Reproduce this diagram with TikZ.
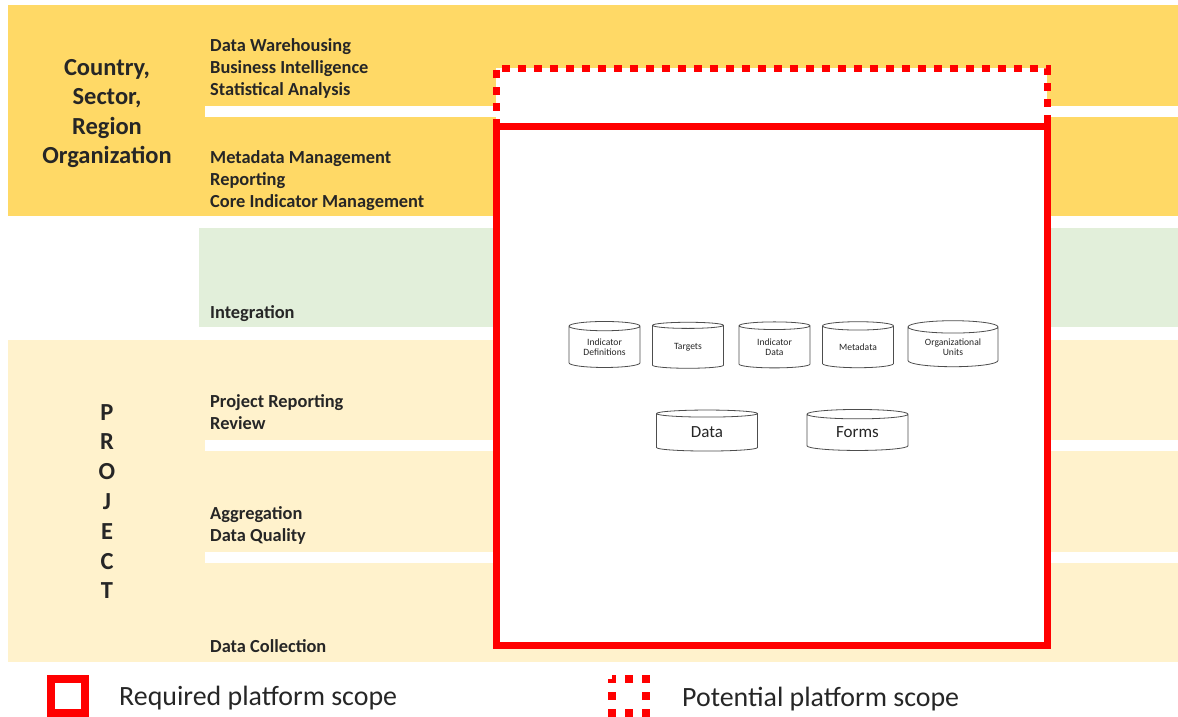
\documentclass[tikz,border=0pt]{standalone}
\usepackage{fontspec}
\setmainfont{Carlito}
\usetikzlibrary{shapes.geometric}
\definecolor{bandgold}{HTML}{FFD966}
\definecolor{bandgreen}{HTML}{E2EFDA}
\definecolor{bandcream}{HTML}{FFF2CC}
\definecolor{scopered}{HTML}{FF0000}
\definecolor{ink}{HTML}{262626}
\definecolor{storeline}{HTML}{4D4D4D}

\begin{document}
\begin{tikzpicture}[x=1pt,y=-1pt,
  lbl/.style={anchor=base west, inner sep=0pt, font=\fontsize{18.4}{22}\selectfont\bfseries, text=ink},
  ttl/.style={anchor=base, inner sep=0pt, font=\fontsize{24.5}{29.5}\selectfont\bfseries, text=ink},
  legendtxt/.style={anchor=base west, inner sep=0pt, font=\fontsize{27.9}{32}\selectfont, text=ink},
  store/.style={cylinder, shape border rotate=90, aspect=0.22, draw=storeline, line width=0.8pt,
    fill=white, inner sep=0pt, align=center, text=ink},
  smallstore/.style={store, minimum width=71pt, minimum height=46pt, font=\fontsize{9.6}{10}\selectfont},
  bigstore/.style={store, minimum width=101pt, minimum height=41pt, font=\fontsize{17}{18}\selectfont},
  required/.style={draw=scopered, line width=7pt},
  potential/.style={draw=scopered, line width=7pt, dash pattern=on 8pt off 8pt},
]
\useasboundingbox (0,0) rectangle (1178,717);

% horizontal bands
\fill[bandgold] (8,5) rectangle (1178,216);
\fill[white] (205,106) rectangle (1178,117);
\fill[bandgreen] (199,228) rectangle (1178,327);
\fill[bandcream] (8,340) rectangle (1178,662);
\fill[white] (205,440) rectangle (1178,451);
\fill[white] (205,552) rectangle (1178,563);

% scope boxes
\fill[white] (496,68.5) rectangle (1047,126.5);
\draw[potential] (496,126.5) -- (496,68.5) -- (1047,68.5) -- (1047,126.5);
\draw[required, fill=white] (496,126.5) rectangle (1047,645);

% row headings
\node[ttl] (t1) at (107,75) {Country,};
\node[ttl] (t2) at (107,104.5) {Sector,};
\node[ttl] (t3) at (107,134) {Region};
\node[ttl] (t4) at (107,163.5) {Organization};

\foreach \ch [count=\i from 0] in {P,R,O,J,E,C,T}
  \node[ttl] (p\i) at (107,420+29.8*\i) {\ch};

% capability labels
\node[lbl] (l1) at (210,51.5) {Data Warehousing};
\node[lbl] (l2) at (210,73.5) {Business Intelligence};
\node[lbl] (l3) at (210,95.5) {Statistical Analysis};
\node[lbl] (l4) at (210,163.5) {Metadata Management};
\node[lbl] (l5) at (210,185.5) {Reporting};
\node[lbl] (l6) at (210,207.5) {Core Indicator Management};
\node[lbl] (l7) at (210,318.5) {Integration};
\node[lbl] (l8) at (210,407.5) {Project Reporting};
\node[lbl] (l9) at (210,429.5) {Review};
\node[lbl] (l10) at (210,519.5) {Aggregation};
\node[lbl] (l11) at (210,541.5) {Data Quality};
\node[lbl] (l12) at (210,652.5) {Data Collection};

% data stores
\node[smallstore] (s1) at (604.5,347) {Indicator\\Definitions};
\node[smallstore] (s2) at (688,347) {Targets};
\node[smallstore] (s3) at (774.5,347) {Indicator\\Data};
\node[smallstore] (s4) at (858,347) {Metadata};
\node[smallstore, minimum width=90pt] (s5) at (953,347) {Organizational\\Units};
\node[bigstore] (d1) at (707,432.5) {\raisebox{-3pt}{Data}};
\node[bigstore] (d2) at (857.5,432.5) {\raisebox{-3pt}{Forms}};

% legend
\draw[required, line width=8pt] (51,679) rectangle (85,713);
\node[legendtxt] (lg1) at (119,705) {Required platform scope};
\draw[draw=scopered, line width=8pt, dash pattern=on 8pt off 9pt, dash phase=4pt] (612,679) rectangle (646,713);
\node[legendtxt] (lg2) at (682,706) {Potential platform scope};
\end{tikzpicture}
\end{document}
